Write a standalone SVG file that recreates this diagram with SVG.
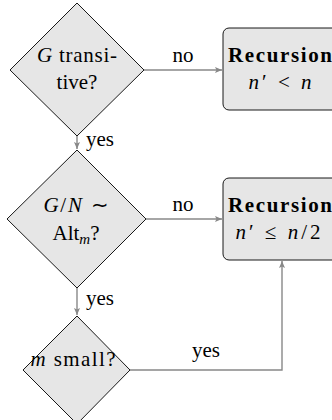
<svg xmlns="http://www.w3.org/2000/svg" width="332" height="420" viewBox="0 0 332 420">
<defs>
<style>
.shape{fill:#e6e6e6;stroke:#000;stroke-width:0.9}
.conn{fill:none;stroke:#888;stroke-width:1.4}
text{font-family:'Liberation Serif','Times New Roman',serif;font-size:21px;fill:#000}
.c{text-anchor:middle}
.b{font-weight:bold}
.i{font-style:italic}
</style>
<marker id="arr" markerWidth="8" markerHeight="6" refX="7" refY="3" orient="auto" markerUnits="userSpaceOnUse">
<path d="M0,0 L7,3 L0,6 L1.5,3 z" fill="#888"/>
</marker>
</defs>
<rect width="332" height="420" fill="#fff"/>
<g id="connectors">
<path class="conn" d="M144,70 H222" marker-end="url(#arr)"/>
<path class="conn" d="M77,136 V149" marker-end="url(#arr)"/>
<path class="conn" d="M146,219 H222" marker-end="url(#arr)"/>
<path class="conn" d="M77,288 V315" marker-end="url(#arr)"/>
<path class="conn" d="M130,370 H282 V261" marker-end="url(#arr)"/>
<text class="c" x="183" y="62">no</text>
<text x="86" y="146">yes</text>
<text class="c" x="183" y="211">no</text>
<text x="86" y="305">yes</text>
<text class="c" x="206" y="357">yes</text>
</g>
<g id="d1">
<polygon class="shape" points="77,3 144,70 77,136 10,70"/>
<text class="c" x="77" y="62" textLength="80"><tspan class="i">G</tspan> transi-</text>
<text class="c" x="77" y="89">tive?</text>
</g>
<g id="r1">
<rect class="shape" x="223" y="28" width="116" height="82" rx="6"/>
<text class="c b" x="280" y="62" textLength="104">Recursion</text>
<text class="c" x="280" y="89" textLength="63"><tspan class="i">n</tspan>′ &lt; <tspan class="i">n</tspan></text>
</g>
<g id="d2">
<polygon class="shape" points="77,150 146,219 77,288 7,219"/>
<text class="c" x="76" y="212" textLength="65"><tspan class="i">G</tspan>/<tspan class="i">N</tspan> ∼</text>
<text class="c" x="76" y="240">Alt<tspan class="i" font-size="15" dy="4">m</tspan><tspan dy="-4">?</tspan></text>
</g>
<g id="r2">
<rect class="shape" x="223" y="178" width="116" height="82" rx="6"/>
<text class="c b" x="280" y="212" textLength="104">Recursion</text>
<text class="c" x="278" y="239" textLength="85"><tspan class="i">n</tspan>′ ≤ <tspan class="i">n</tspan>/2</text>
</g>
<g id="d3">
<polygon class="shape" points="77,316 130,370 77,424 23,370"/>
<text class="c" x="73" y="366" textLength="85"><tspan class="i">m</tspan> small?</text>
</g>
</svg>
